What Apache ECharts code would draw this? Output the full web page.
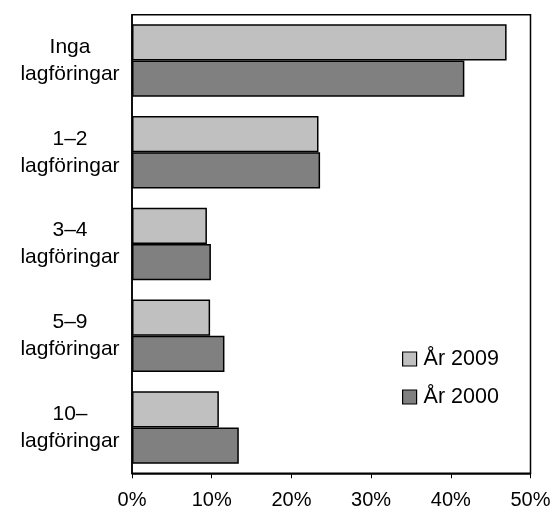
<!DOCTYPE html>
<html><head><meta charset="utf-8">
<script src="https://cdn.jsdelivr.net/npm/echarts@6/dist/echarts.min.js"></script>
<style>html,body{margin:0;padding:0;background:#fff}#c{width:555px;height:512px}</style>
</head><body><div id="c"></div>
<script>
const categories = ['Inga\nlagföringar', '1–2\nlagföringar', '3–4\nlagföringar', '5–9\nlagföringar', '10–\nlagföringar'];
const series2009 = [47.0, 23.4, 9.4, 9.8, 10.9];
const series2000 = [41.7, 23.6, 9.9, 11.6, 13.4];
const xTicks = [0, 10, 20, 30, 40, 50];

const font = 'Liberation Sans, Arial, sans-serif';
const chart = echarts.init(document.getElementById('c'), null, {renderer: 'canvas'});
chart.setOption({
  animation: false,
  textStyle: {fontFamily: font},
  grid: {left: 132, right: 24.5, top: 14.7, bottom: 38.7, show: true, borderColor: '#000', borderWidth: 1.5, backgroundColor: 'transparent'},
  legend: {
    orient: 'vertical', left: 397, top: 343, itemGap: 16, itemWidth: 14, itemHeight: 14, icon: 'rect',
    itemStyle: {borderColor: '#000', borderWidth: 1.2},
    textStyle: {fontSize: 21.5, color: '#000', fontFamily: font, padding: [0, 0, 0, 2]},
    data: ['År 2009', 'År 2000']
  },
  xAxis: {
    type: 'value', min: xTicks[0], max: xTicks[xTicks.length - 1], interval: 10,
    axisLine: {show: true, lineStyle: {color: '#000', width: 1.5}},
    axisTick: {show: true, length: 5, lineStyle: {color: '#000'}},
    splitLine: {show: false},
    axisLabel: {formatter: '{value}%', fontSize: 20, color: '#000', margin: 17, fontFamily: font}
  },
  yAxis: {
    type: 'category', data: categories, inverse: true,
    axisLine: {show: true, lineStyle: {color: '#000', width: 1.5}},
    axisTick: {show: false},
    axisLabel: {
      color: '#000', margin: 4, align: 'right', fontFamily: font,
      formatter: v => v.split('\n').map(s => '{a|' + s + '}').join('\n'),
      rich: {a: {fontSize: 21, lineHeight: 27, width: 116, align: 'center', color: '#000', fontFamily: font}}
    }
  },
  series: [
    {name: 'År 2009', type: 'bar', data: series2009, barGap: '0%', barCategoryGap: '21%',
     itemStyle: {color: '#c0c0c0', borderColor: '#000', borderWidth: 1.5}},
    {name: 'År 2000', type: 'bar', data: series2000, barGap: '0%', barCategoryGap: '21%',
     itemStyle: {color: '#808080', borderColor: '#000', borderWidth: 1.5}}
  ]
});
</script></body></html>
